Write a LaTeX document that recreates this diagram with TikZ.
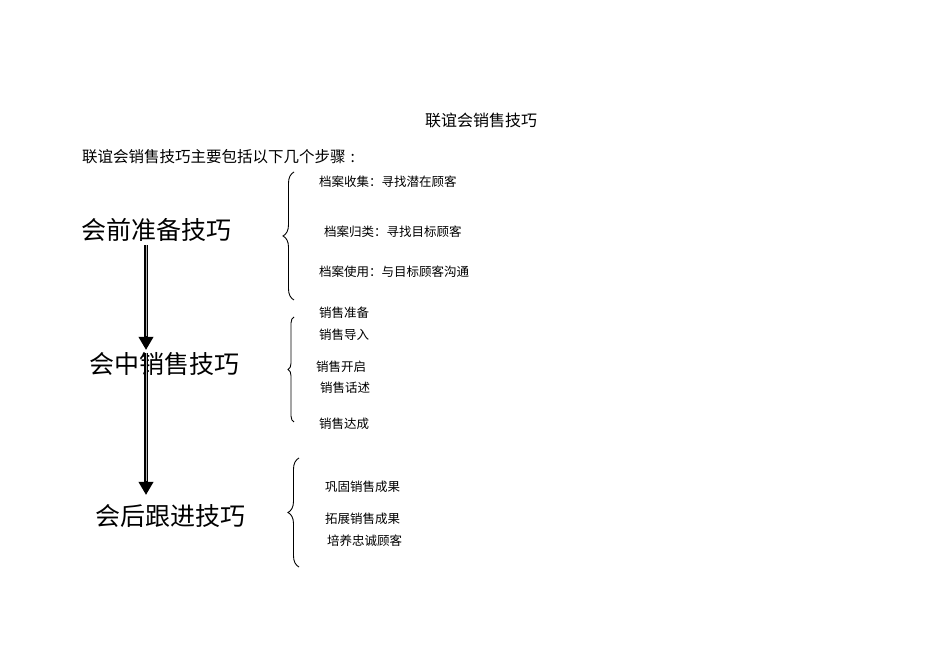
\documentclass[tikz,border=0pt]{standalone}
\usepackage{fontspec}
\newfontfamily\cjk{Noto Sans CJK SC}
\usetikzlibrary{arrows.meta,decorations.pathreplacing}

\tikzset{
  txt/.style={anchor=west,inner sep=0pt,font=\cjk},
  headtxt/.style={txt,font=\cjk\fontsize{16}{18}\selectfont},
  steptxt/.style={txt,font=\cjk\fontsize{25}{28}\selectfont},
  itemtxt/.style={txt,font=\cjk\fontsize{12.5}{14}\selectfont},
  bracket/.style={draw,line width=0.9pt,decorate,decoration={brace,amplitude=#1}},
  flowarrow/.style={line width=4pt,-{Triangle[width=14pt,length=13pt]}},
  flowcore/.style={line width=1pt,gray!60,shorten >=14pt}
}

\begin{document}
\begin{tikzpicture}[x=1pt,y=1pt]
    \useasboundingbox (0,0) rectangle (950,671);
    % headings
    \node[headtxt] (title) at (425,551) {联谊会销售技巧};
    \node[txt,font=\cjk\fontsize{15.5}{18}\selectfont] (intro) at (82,514) {联谊会销售技巧主要包括以下几个步骤\hspace{5pt}:};
    % three stages
    \node[steptxt] (pre) at (81,441) {会前准备技巧};
    \node[steptxt] (mid) at (89,307) {会中销售技巧};
    \node[steptxt] (post) at (95,155) {会后跟进技巧};
    \coordinate (a1) at (146,426);
    \coordinate (a2) at (146,321);
    \coordinate (b1) at (146,318);
    \coordinate (b2) at (146,176);
    \draw[flowarrow] (a1) -- (a2);
    \draw[flowcore] (a1) -- (a2);
    \draw[flowarrow] (b1) -- (b2);
    \draw[flowcore] (b1) -- (b2);
    % braces
    \draw[bracket=11pt] (294,371) -- (294,499);
    \draw[bracket=6pt] (294,249) -- (294,354);
    \draw[bracket=11pt] (299,104) -- (299,213);
    % items
    \node[itemtxt] (i1) at (319,489) {档案收集：寻找潜在顾客};
    \node[itemtxt] (i2) at (324,439) {档案归类：寻找目标顾客};
    \node[itemtxt] (i3) at (319,399) {档案使用：与目标顾客沟通};
    \node[itemtxt] (j1) at (319,358) {销售准备};
    \node[itemtxt] (j2) at (319,336) {销售导入};
    \node[itemtxt] (j3) at (316,304) {销售开启};
    \node[itemtxt] (j4) at (320,283) {销售话述};
    \node[itemtxt] (j5) at (319,247) {销售达成};
    \node[itemtxt] (k1) at (325,184) {巩固销售成果};
    \node[itemtxt] (k2) at (325,152) {拓展销售成果};
    \node[itemtxt] (k3) at (327,130) {培养忠诚顾客};
\end{tikzpicture}
\end{document}
